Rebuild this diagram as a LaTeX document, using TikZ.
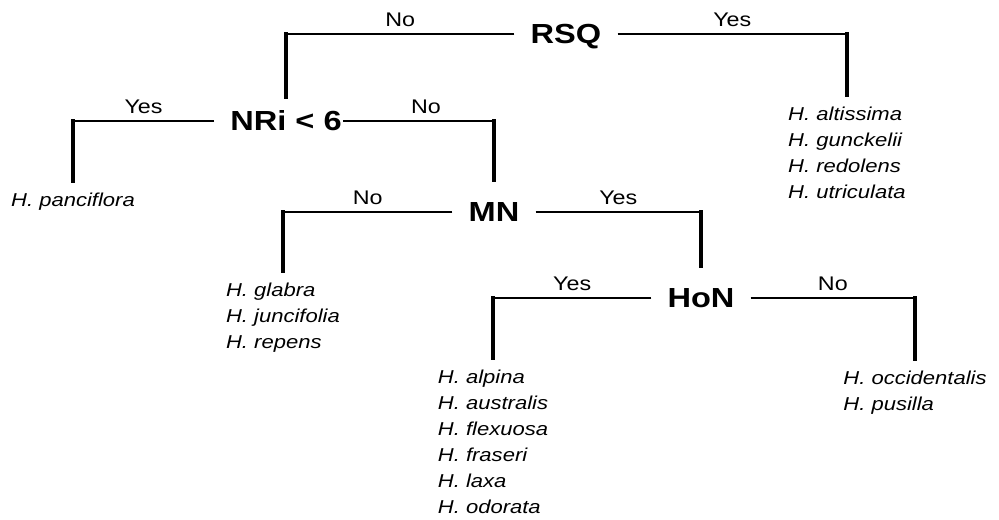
\documentclass[tikz,border=0pt]{standalone}
\usepackage{fontspec}
\setmainfont{Liberation Sans}[FakeStretch=1.18]

\tikzset{
    question/.style={font=\fontsize{20.7}{24}\selectfont\bfseries,
        text height=14.8pt, text depth=0pt, inner xsep=12pt, inner ysep=16pt},
    species/.style={font=\fontsize{14}{19.5}\selectfont\itshape, align=left,
        anchor=north, inner xsep=0pt, inner ysep=9pt},
    answer/.style={font=\fontsize{14.8}{17}\selectfont, above, inner sep=5pt, pos=0.25},
    branch/.style={line width=1.6pt},
    stem/.style={line width=2.4pt, line cap=rect}
}

\begin{document}
\begin{tikzpicture}[x=0.75pt, y=-0.75pt]
    \useasboundingbox (0,0) rectangle (999,519);
    % Questions
    \node[question] (rsq) at (566,34) {RSQ};
    \node[question, inner ysep=10pt] (nri) at (286,121) {NRi < 6};
    \node[question] (mn) at (494,212) {MN};
    \node[question] (hon) at (701,298) {HoN};
    % Species groups
    \node[species] (alt) at (847,95) {H. altissima\\H. gunckelii\\H. redolens\\H. utriculata};
    \node[species] (pan) at (73,181) {H. panciflora};
    \node[species] (gla) at (283,271) {H. glabra\\H. juncifolia\\H. repens};
    \node[species] (alp) at (493,358) {H. alpina\\H. australis\\H. flexuosa\\H. fraseri\\H. laxa\\H. odorata};
    \node[species] (occ) at (915,359) {H. occidentalis\\H. pusilla};
    % RSQ
    \draw[branch] (rsq.west) -| (nri.north) node[answer] {No};
    \draw[stem] (rsq.west -| nri.north) -- (nri.north);
    \draw[branch] (rsq.east) -| (alt.north) node[answer] {Yes};
    \draw[stem] (rsq.east -| alt.north) -- (alt.north);
    % NRi < 6
    \draw[branch] (nri.west) -| (pan.north) node[answer] {Yes};
    \draw[stem] (nri.west -| pan.north) -- (pan.north);
    \draw[branch, shorten <=-11pt] (nri.east) -| (mn.north) node[answer] {No};
    \draw[stem] (nri.east -| mn.north) -- (mn.north);
    % MN
    \draw[branch] (mn.west) -| (gla.north) node[answer] {No};
    \draw[stem] (mn.west -| gla.north) -- (gla.north);
    \draw[branch] (mn.east) -| (hon.north) node[answer] {Yes};
    \draw[stem] (mn.east -| hon.north) -- (hon.north);
    % HoN
    \draw[branch] (hon.west) -| (alp.north) node[answer] {Yes};
    \draw[stem] (hon.west -| alp.north) -- (alp.north);
    \draw[branch] (hon.east) -| (occ.north) node[answer] {No};
    \draw[stem] (hon.east -| occ.north) -- (occ.north);
\end{tikzpicture}
\end{document}
